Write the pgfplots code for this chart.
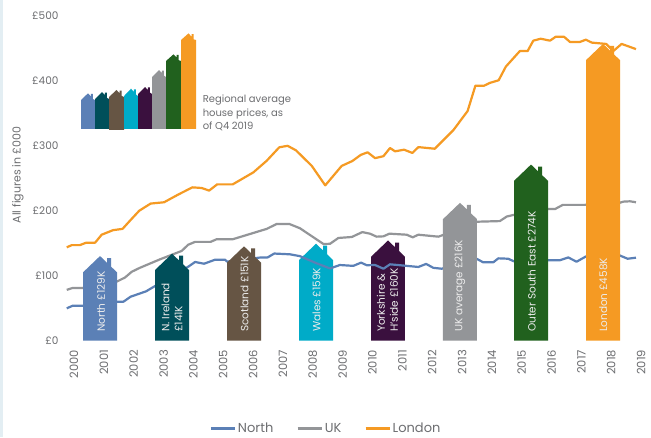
\documentclass[border=0pt]{standalone}
\usepackage{fontspec}
\setmainfont{Poppins}
\usepackage{pgfplots}
\pgfplotsset{compat=1.18}
\definecolor{cNorth}{HTML}{5B80B6}
\definecolor{cNI}{HTML}{004F5A}
\definecolor{cScot}{HTML}{665544}
\definecolor{cWales}{HTML}{00ABC8}
\definecolor{cYork}{HTML}{3A103E}
\definecolor{cUK}{HTML}{939598}
\definecolor{cOSE}{HTML}{21611E}
\definecolor{cLon}{HTML}{F59A23}
\definecolor{cTxt}{HTML}{6D6E71}
\definecolor{cGrid}{HTML}{C6C7C8}
\definecolor{cStrip}{HTML}{E3EEF3}
\definecolor{cLab}{HTML}{ECECEC}
\begin{document}
\begin{tikzpicture}
\path[use as bounding box,fill=white] (0,0) rectangle (651pt,437pt);
\fill[cStrip] (0,0) rectangle (3pt,437pt);
\begin{axis}[
  at={(66pt,96.5pt)},anchor=south west,
  scale only axis,width=580pt,height=324.5pt,
  xmin=1999.765,xmax=2019.196,ymin=0,ymax=500,
  clip=false,
  axis x line*=bottom,axis y line=none,
  axis line style={draw=none},
  ymajorgrids,
  grid style={cGrid,line width=1.2pt},
  major tick length=0pt,
  ytick={0,100,200,300,400,500},
  xtick={2000,2001,2002,2003,2004,2005,2006,2007,2008,2009,2010,2011,2012,2013,2014,2015,2016,2017,2018,2019},
  xticklabels={2000,2001,2002,2003,2004,2005,2006,2007,2008,2009,2010,2011,2012,2013,2014,2015,2016,2017,2018,2019},
  x tick label style={rotate=90,anchor=east,font=\fontsize{11.5}{13}\selectfont,text=cTxt,xshift=-6pt,yshift=-1pt},
  legend style={at={(260pt,-88pt)},anchor=center,draw=none,fill=none,legend columns=3,
    font=\fontsize{13}{15}\selectfont,text=cTxt,/tikz/every even column/.append style={column sep=21pt}},
  legend image code/.code={\draw[#1,line width=2.4pt] (0pt,0pt) -- (24pt,0pt);},
]
\foreach \v/\t in {0/£0,100/£100,200/£200,300/£300,400/£400,500/£500}{
  \edef\temp{\noexpand\node[anchor=east,text=cTxt,font=\noexpand\fontsize{10.5}{12}\noexpand\selectfont] at (axis cs:1999.765,\v) [xshift=-4pt] {\t};}
  \temp
}
\addplot[fill=cWales,draw=none,forget plot] coordinates {(2007.571,0)(2007.571,124)(2008.141,149.1)(2008.375,138.8)(2008.375,146)(2008.509,146)(2008.509,132.9)(2008.710,124)(2008.710,0)};
\addplot[fill=cYork,draw=none,forget plot] coordinates {(2009.983,0)(2009.983,129)(2010.553,154.1)(2010.787,143.8)(2010.787,151)(2010.921,151)(2010.921,137.9)(2011.122,129)(2011.122,0)};
\addplot[cNorth,line width=2.2pt,line join=round] coordinates {
(1999.79,49.6)(1999.99,53.6)(2000.32,53.6)(2000.90,58)(2001.48,59.8)(2001.69,59.8)(2001.93,67.5)(2002.45,75.8)(2002.75,84)(2003.32,100)(2003.86,113.7)(2004.09,121)(2004.39,118.3)(2004.76,124.5)(2005.09,124.5)(2005.17,121.4)(2005.73,125)(2006.30,128)(2006.52,128)(2006.74,134)(2007.27,132.8)(2007.60,130)(2008.16,119)(2008.61,111)(2008.94,116.3)(2009.39,115)(2009.65,120)(2009.84,116)(2010.12,116.3)(2010.40,110.6)(2010.62,117.4)(2010.95,116)(2011.57,113.3)(2011.83,118)(2012.07,112)(2012.35,110.6)(2012.93,118)(2013.52,126)(2013.74,120.5)(2014.08,120.5)(2014.25,126.6)(2014.58,126)(2014.77,122)(2015.34,123)(2015.92,123.6)(2016.31,123.6)(2016.59,128)(2016.87,121.4)(2017.19,129.7)(2017.75,130)(2018.32,131)(2018.58,126)(2018.86,127.6)};
\addlegendentry{North}
\addplot[cUK,line width=2.2pt,line join=round] coordinates {
(1999.79,78)(1999.99,81)(2000.32,81)(2001.46,90.6)(2001.74,97)(2001.97,106)(2002.24,112)(2002.91,125)(2003.64,138)(2003.86,147.6)(2004.09,152)(2004.61,152)(2004.81,156)(2005.35,156)(2006.49,172)(2006.82,179.5)(2007.25,179.5)(2007.60,173)(2008.39,148.7)(2008.61,149)(2008.89,158)(2009.34,159.5)(2009.69,167)(2009.95,164.6)(2010.17,160)(2010.40,160.5)(2010.60,164.6)(2011.18,163)(2011.38,159)(2011.57,163)(2012.24,160)(2012.86,170)(2013.52,183)(2014.30,184)(2014.53,191)(2014.75,193.4)(2015.31,198)(2015.91,202.6)(2016.15,202.6)(2016.41,209)(2017.15,209)(2017.54,212)(2018.10,209)(2018.44,214)(2018.66,214.5)(2018.86,213)};
\addlegendentry{UK}
\addplot[cLon,line width=2.2pt,line join=round] coordinates {
(1999.79,143.6)(1999.96,147)(2000.23,147)(2000.44,150.7)(2000.74,150.7)(2000.96,163)(2001.34,170)(2001.66,172)(2001.93,185.7)(2002.22,200)(2002.60,211)(2003.05,213)(2003.53,225)(2004.00,236)(2004.31,235)(2004.56,231)(2004.83,240.6)(2005.35,240.6)(2006.04,259)(2006.49,277)(2006.91,297.7)(2007.19,300)(2007.47,293)(2008.00,269)(2008.45,239)(2009.00,269)(2009.36,276.6)(2009.64,286)(2009.87,290)(2010.12,281)(2010.40,284)(2010.62,296.6)(2010.79,291.5)(2011.09,294)(2011.37,289)(2011.57,298)(2012.12,295.5)(2012.74,324)(2013.22,353.6)(2013.48,392.6)(2013.77,392.6)(2013.97,397)(2014.26,401)(2014.50,422)(2014.97,446)(2015.23,446)(2015.42,462)(2015.67,465)(2015.98,462)(2016.17,468)(2016.45,468)(2016.65,460)(2016.98,460)(2017.18,463.5)(2017.38,459)(2017.86,457)(2018.10,446)(2018.38,457)(2018.86,449)};
\addlegendentry{London}
\addplot[fill=cNorth,draw=none,forget plot] coordinates {(2000.335,0)(2000.335,105)(2000.905,130.1)(2001.139,119.8)(2001.139,127)(2001.273,127)(2001.273,113.9)(2001.474,105)(2001.474,0)};
\addplot[fill=cNI,draw=none,forget plot] coordinates {(2002.747,0)(2002.747,108.6)(2003.317,133.7)(2003.551,123.4)(2003.551,130.6)(2003.685,130.6)(2003.685,117.5)(2003.886,108.6)(2003.886,0)};
\addplot[fill=cScot,draw=none,forget plot] coordinates {(2005.159,0)(2005.159,120)(2005.729,145.1)(2005.963,134.8)(2005.963,142)(2006.097,142)(2006.097,128.9)(2006.298,120)(2006.298,0)};
\addplot[fill=cUK,draw=none,forget plot] coordinates {(2012.395,0)(2012.395,187)(2012.965,212.1)(2013.199,201.8)(2013.199,209)(2013.333,209)(2013.333,195.9)(2013.534,187)(2013.534,0)};
\addplot[fill=cOSE,draw=none,forget plot] coordinates {(2014.774,0)(2014.774,246)(2015.344,271.1)(2015.578,260.8)(2015.578,268)(2015.712,268)(2015.712,254.9)(2015.913,246)(2015.913,0)};
\addplot[fill=cLon,draw=none,forget plot] coordinates {(2017.186,0)(2017.186,432)(2017.756,457.1)(2017.990,446.8)(2017.990,454)(2018.124,454)(2018.124,440.9)(2018.325,432)(2018.325,0)};
\addplot[fill=cNorth,draw=none,forget plot] coordinates {(2000.268,325.9)(2000.268,370.6)(2000.503,380.9)(2000.598,376)(2000.598,380)(2000.668,380)(2000.668,372)(2000.737,370.6)(2000.737,325.9)};
\addplot[fill=cNI,draw=none,forget plot] coordinates {(2000.737,325.9)(2000.737,372.1)(2000.972,382.9)(2001.067,378)(2001.067,382)(2001.137,382)(2001.137,374)(2001.206,372.1)(2001.206,325.9)};
\addplot[fill=cScot,draw=none,forget plot] coordinates {(2001.206,324.4)(2001.206,375.2)(2001.458,386)(2001.558,381)(2001.558,385)(2001.628,385)(2001.628,377)(2001.709,375.2)(2001.709,324.4)};
\addplot[fill=cWales,draw=none,forget plot] coordinates {(2001.709,325.9)(2001.709,376.7)(2001.944,388)(2002.039,383)(2002.039,387)(2002.109,387)(2002.109,379)(2002.178,376.7)(2002.178,325.9)};
\addplot[fill=cYork,draw=none,forget plot] coordinates {(2002.178,325.9)(2002.178,379.8)(2002.413,390.6)(2002.508,386)(2002.508,390)(2002.578,390)(2002.578,382)(2002.647,379.8)(2002.647,325.9)};
\addplot[fill=cUK,draw=none,forget plot] coordinates {(2002.647,325.9)(2002.647,406)(2002.882,416.8)(2002.977,412)(2002.977,416)(2003.047,416)(2003.047,408)(2003.116,406)(2003.116,325.9)};
\addplot[fill=cOSE,draw=none,forget plot] coordinates {(2003.116,325.9)(2003.116,430.7)(2003.368,441)(2003.468,436)(2003.468,440)(2003.538,440)(2003.538,432)(2003.619,430.7)(2003.619,325.9)};
\addplot[fill=cLon,draw=none,forget plot] coordinates {(2003.619,325.9)(2003.619,463)(2003.871,473.3)(2003.971,468)(2003.971,472)(2004.041,472)(2004.041,464)(2004.121,463)(2004.121,325.9)};
\tikzset{hl/.style={rotate=90,anchor=west,text=cLab,font=\fontsize{10.5}{13}\selectfont,inner sep=0pt}}
\node[hl] at (axis cs:2000.94,13) {North £129K};
\node[hl,align=left] at (axis cs:2003.32,13) {N. Ireland\\£141K};
\node[hl] at (axis cs:2005.75,13) {Scotland £151K};
\node[hl] at (axis cs:2008.16,13) {Wales £159K};
\node[hl,align=left] at (axis cs:2010.53,13) {Yorkshire \&\\H'side £160K};
\node[hl] at (axis cs:2012.96,13) {UK average £216K};
\node[hl] at (axis cs:2015.37,13) {Outer South East £274K};
\node[hl] at (axis cs:2017.77,13) {London £458K};
\node[anchor=north west,align=left,text=cTxt,font=\fontsize{10}{13.3}\selectfont,inner sep=0pt] at (axis cs:2004.34,378) {Regional average\\house prices, as\\of Q4 2019};
\node[rotate=90,text=cTxt,font=\fontsize{11}{13}\selectfont] at (rel axis cs:-0.083,0.51) {All figures in £000};
\end{axis}
\end{tikzpicture}
\end{document}
